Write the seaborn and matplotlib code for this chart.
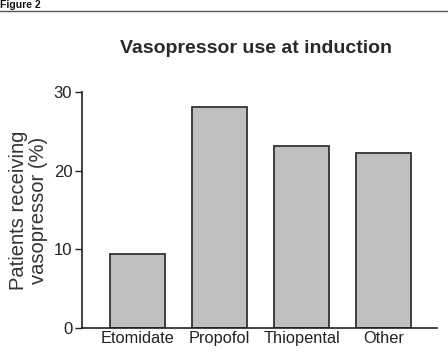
import matplotlib
matplotlib.use('Agg')
import matplotlib.pyplot as plt
import seaborn as sns
from matplotlib.lines import Line2D

# Dados
drugs = ['Etomidate', 'Propofol', 'Thiopental', 'Other']
pct_vasopressor = [9.4, 28.1, 23.1, 22.2]
y_ticks = [0, 10, 20, 30]

sns.set_style('ticks')
plt.rcParams['font.family'] = ['Liberation Sans', 'DejaVu Sans']

fig = plt.figure(figsize=(4.48, 3.52), dpi=100)
ax = fig.add_axes([0.183, 0.068, 0.792, 0.671])

sns.barplot(x=drugs, y=pct_vasopressor, color='#c0c0c0', edgecolor='#333333',
            linewidth=1.3, width=0.67, saturation=1, ax=ax)

ax.set_ylim(0, 30)
ax.set_xlim(-0.68, 3.65)
ax.set_yticks(y_ticks)
ax.tick_params(axis='y', length=5, width=1, colors='#222222', labelsize=12, pad=2)
ax.tick_params(axis='x', length=0, labelsize=11.8, pad=2, colors='#222222')
ax.set_xlabel('')
ax.set_ylabel('Patients receiving\nvasopressor (%)', fontsize=14.5, color='#333333',
              labelpad=4, linespacing=1.05)
for s in ['left', 'bottom']:
    ax.spines[s].set_color('#222222')
    ax.spines[s].set_linewidth(1.2)
sns.despine(ax=ax)

fig.text(0.571, 0.862, 'Vasopressor use at induction', ha='center', va='center',
         fontsize=14, fontweight='bold', color='#2a2a2a')

# Cabeçalho "Figure 2" e linha
fig.text(0.0, 0.976, 'Figure 2', ha='left', va='baseline', fontsize=7.5,
         fontweight='bold', color='#111111')
fig.add_artist(Line2D([0, 1], [0.969, 0.969], transform=fig.transFigure,
                      color='#555555', linewidth=1))

fig.savefig('out.png', dpi=100)
